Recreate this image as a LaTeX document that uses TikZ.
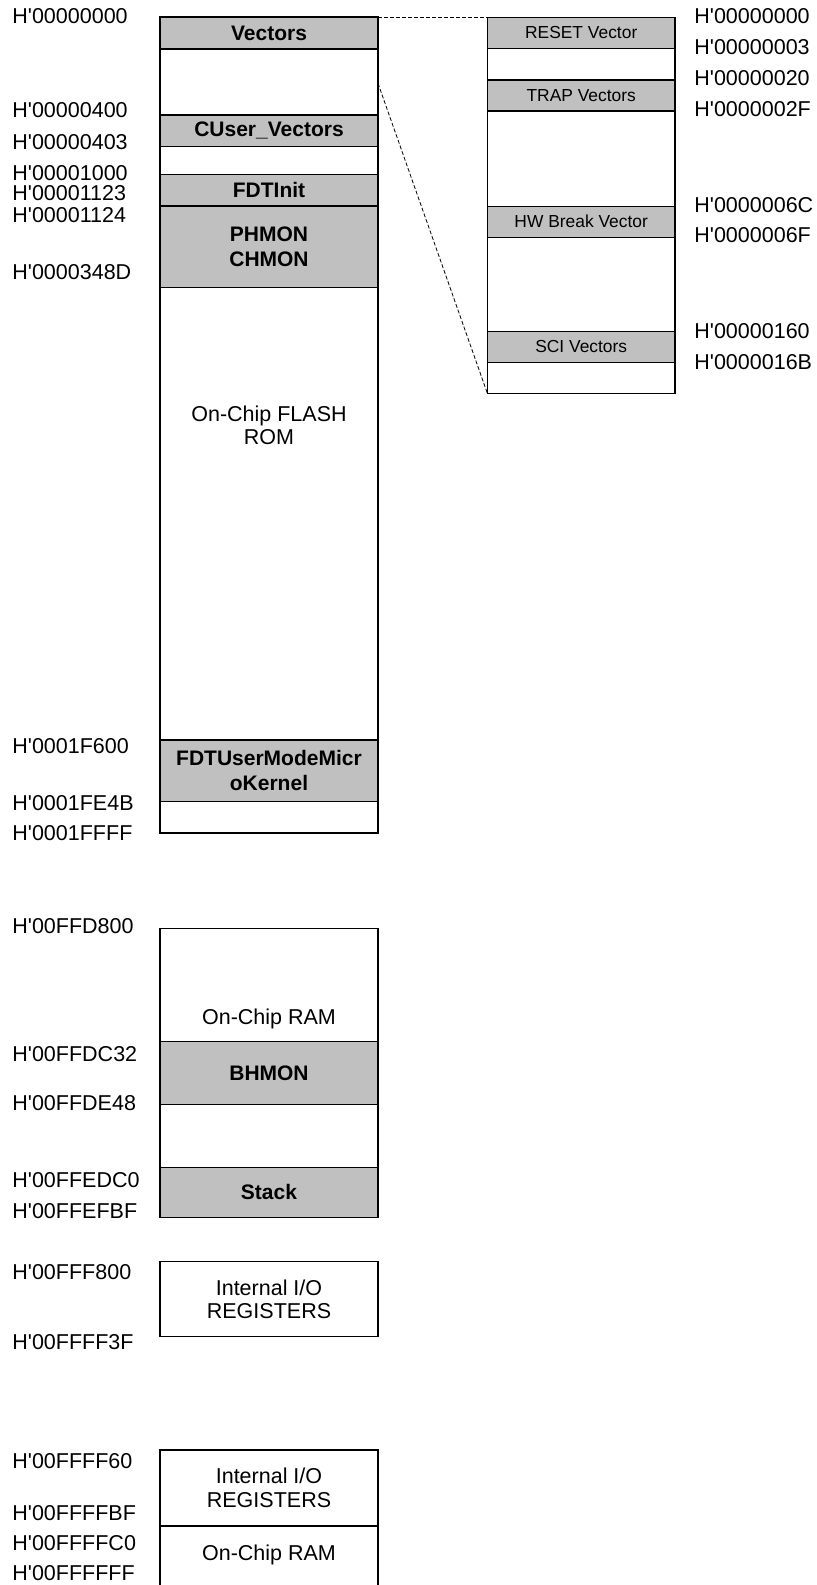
\documentclass[tikz,border=0pt]{standalone}
\usepackage{fontspec}
\setmainfont{Liberation Sans}
\usetikzlibrary{positioning}

\definecolor{memgray}{RGB}{192,192,192}
\newcommand{\addrfont}{\fontsize{10.75}{12.5}\selectfont}
\newcommand{\boxfont}{\fontsize{10.75}{11.8}\selectfont}
\newcommand{\blockfont}{\fontsize{10.5}{12.6}\selectfont\bfseries}
\newcommand{\vecfont}{\fontsize{8.7}{10}\selectfont}
\newcommand{\hx}[1]{H\textquotesingle #1}

\begin{document}
\begin{tikzpicture}[
    x=0.5pt, y=-0.5pt,
    region/.style={
        draw, rectangle, inner sep=0pt, outer sep=0pt,
        minimum width=109pt, line width=0.6pt, align=center, font=\boxfont
    },
    used/.style={region, fill=memgray, font=\blockfont},
    vecblock/.style={
        draw, rectangle, inner sep=0pt, outer sep=0pt, fill=memgray,
        minimum width=93.85pt, minimum height=15.5pt, line width=0.6pt, font=\vecfont
    },
    addr/.style={anchor=west, inner sep=0pt, font=\addrfont},
    zoomline/.style={line width=0.4pt, dash pattern=on 2pt off 1pt}
]

\useasboundingbox (0,0) rectangle (817,1585);
\clip (0,0) rectangle (817,1585);

% -------------------------
% On-Chip FLASH ROM
% -------------------------
\node[used, line width=1.1pt, minimum height=16pt] (vectors) at (269,33.3) {Vectors};
\node[used, minimum height=15.85pt] (cuser) at (269,130.8) {CUser\_Vectors};
\node[used, minimum height=15.85pt] (fdtinit) at (269,190.2) {FDTInit};
\node[used, minimum height=40.65pt] (hmon) at (269,246.7) {PHMON\\CHMON};
\node[used, minimum height=30.85pt] (kernel) at (269,770.8) {FDTUserModeMicr\\oKernel};
\node[region, line width=1.1pt, minimum height=408pt] (flash) at (269,425.3) {On-Chip FLASH\\ROM};

% -------------------------
% Vector table (zoomed)
% -------------------------
\node[region, minimum width=93.85pt, minimum height=188pt] (vectab) at (581.2,205.3) {};
\node[vecblock] (reset) at (581.2,32.8) {RESET Vector};
\node[vecblock] (trap) at (581.2,95.5) {TRAP Vectors};
\node[vecblock] (hwbreak) at (581.2,221.7) {HW Break Vector};
\node[vecblock] (sci) at (581.2,347) {SCI Vectors};

% zoom lines
\coordinate (vecend) at (378,83.3);
\draw[zoomline] (vectors.north east) -- (vectab.north west);
\draw[zoomline] (vecend) -- (vectab.south west);

% -------------------------
% On-Chip RAM
% -------------------------
\node[region, minimum height=144.5pt] (ram) at (269,1072.8) {};
\node[font=\boxfont, inner sep=0pt] (ramlabel) at (269,1019) {On-Chip RAM};
\node[used, minimum height=31.3pt] (bhmon) at (269,1073) {BHMON};
\node[used, minimum height=25pt] (stack) at (269,1192.3) {Stack};

% -------------------------
% Internal I/O registers
% -------------------------
\node[region, minimum height=37.5pt] (io) at (269,1299.2) {Internal I/O\\REGISTERS};
\node[region, minimum height=38pt] (iotwo) at (269,1488) {Internal I/O\\REGISTERS};
\node[region, minimum height=40pt, anchor=north] (ramtwo) at (iotwo.south) {};
\node[font=\boxfont, inner sep=0pt] (ramtwolabel) at (269,1555) {On-Chip RAM};

% -------------------------
% Addresses (left)
% -------------------------
\node[addr] (a00000000) at (12,16.5) {\hx{00000000}};
\node[addr] (a00000400) at (12,110.5) {\hx{00000400}};
\node[addr] (a00000403) at (12,142.5) {\hx{00000403}};
\node[addr] (a00001000) at (12,173) {\hx{00001000}};
\node[addr] (a00001123) at (12,193.5) {\hx{00001123}};
\node[addr] (a00001124) at (12,215) {\hx{00001124}};
\node[addr] (a0000348D) at (12,272) {\hx{0000348D}};
\node[addr] (a0001F600) at (12,746) {\hx{0001F600}};
\node[addr] (a0001FE4B) at (12,803) {\hx{0001FE4B}};
\node[addr] (a0001FFFF) at (12,833) {\hx{0001FFFF}};
\node[addr] (a00FFD800) at (12,926.5) {\hx{00FFD800}};
\node[addr] (a00FFDC32) at (12,1054) {\hx{00FFDC32}};
\node[addr] (a00FFDE48) at (12,1103.5) {\hx{00FFDE48}};
\node[addr] (a00FFEDC0) at (12,1180) {\hx{00FFEDC0}};
\node[addr] (a00FFEFBF) at (12,1211) {\hx{00FFEFBF}};
\node[addr] (a00FFF800) at (12,1272) {\hx{00FFF800}};
\node[addr] (a00FFFF3F) at (12,1342.5) {\hx{00FFFF3F}};
\node[addr] (a00FFFF60) at (12,1461.5) {\hx{00FFFF60}};
\node[addr] (a00FFFFBF) at (12,1513) {\hx{00FFFFBF}};
\node[addr] (a00FFFFC0) at (12,1543) {\hx{00FFFFC0}};
\node[addr] (a00FFFFFF) at (12,1573) {\hx{00FFFFFF}};

% -------------------------
% Addresses (vector table)
% -------------------------
\node[addr] (r00000000) at (694,16.5) {\hx{00000000}};
\node[addr] (r00000003) at (694,47) {\hx{00000003}};
\node[addr] (r00000020) at (694,78) {\hx{00000020}};
\node[addr] (r0000002F) at (694,109) {\hx{0000002F}};
\node[addr] (r0000006C) at (694,205) {\hx{0000006C}};
\node[addr] (r0000006F) at (694,235.5) {\hx{0000006F}};
\node[addr] (r00000160) at (694,331) {\hx{00000160}};
\node[addr] (r0000016B) at (694,362) {\hx{0000016B}};

\end{tikzpicture}
\end{document}
